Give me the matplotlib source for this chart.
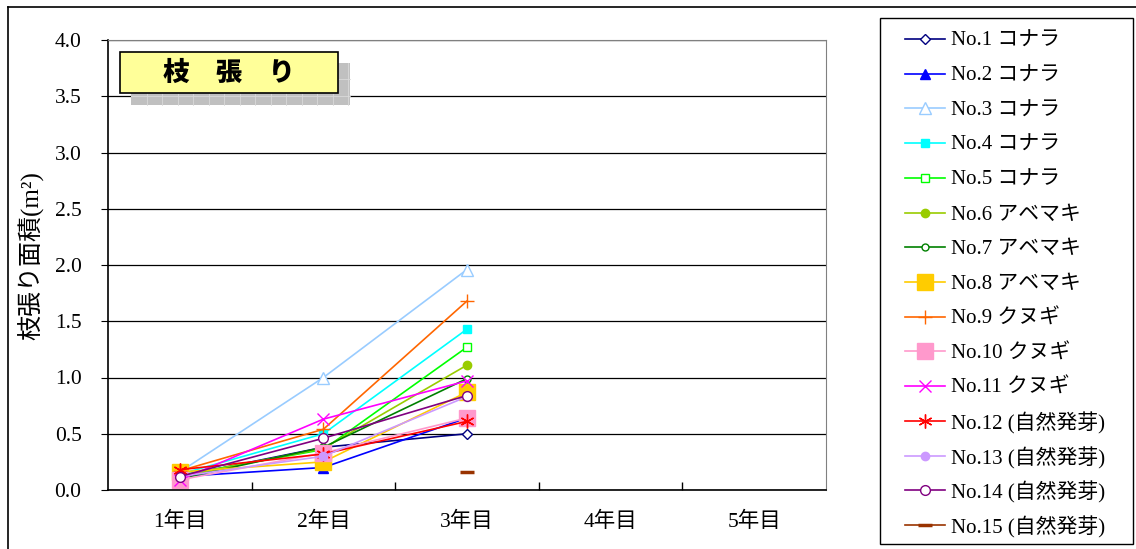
import numpy as np
import matplotlib
matplotlib.use("Agg")
import matplotlib.pyplot as plt
import matplotlib.patches as patches

plt.rcParams['font.family'] = ['Liberation Serif', 'Noto Sans CJK JP']

years = ['1年目', '2年目', '3年目', '4年目', '5年目']
labels = ['No.1 コナラ', 'No.2 コナラ', 'No.3 コナラ', 'No.4 コナラ', 'No.5 コナラ',
          'No.6 アベマキ', 'No.7 アベマキ', 'No.8 アベマキ', 'No.9 クヌギ', 'No.10 クヌギ',
          'No.11 クヌギ', 'No.12 (自然発芽)', 'No.13 (自然発芽)', 'No.14 (自然発芽)',
          'No.15 (自然発芽)']
nan = np.nan
values = [
    [0.12, 0.38, 0.50],
    [0.12, 0.20, 0.64],
    [0.16, 1.00, 1.96],
    [0.14, 0.50, 1.43],
    [0.13, 0.36, 1.27],
    [0.12, 0.37, 1.11],
    [0.10, 0.38, 0.99],
    [0.16, 0.25, 0.87],
    [0.17, 0.54, 1.68],
    [0.09, 0.33, 0.64],
    [0.09, 0.63, 0.97],
    [0.18, 0.32, 0.61],
    [0.12, 0.30, 0.83],
    [0.12, 0.46, 0.84],
    [nan, nan, 0.16],
]
colors = ['#000080', '#0000FF', '#99CCFF', '#00FFFF', '#00FF00', '#99CC00', '#008000',
          '#FFCC00', '#FF6600', '#FF99CC', '#FF00FF', '#FF0000', '#CC99FF', '#800080',
          '#993300']
# marker, size, filled
markers = [('D', 5, False), ('^', 7, True), ('^', 8, False), ('s', 6, True),
           ('s', 6, False), ('o', 6, True), ('o', 5, False), ('s', 11, True),
           ('+', 10, True), ('s', 11, True), ('x', 8, True), ((6, 2, 0), 10, True),
           ('o', 6, True), ('o', 7, False), ('_', 10, True)]


def fx(px):
    return px / 1136


def fy(py):
    return 1 - py / 549


fig = plt.figure(figsize=(11.36, 5.49), dpi=100)
ax = fig.add_axes([fx(108), fy(490), fx(826) - fx(108), fy(40) - fy(490)])

x = np.arange(1, 4)
styles = []
for vals, c, (m, ms, filled) in zip(values, colors, markers):
    st = dict(color=c, lw=1.2, marker=m, ms=ms, mfc=c if filled else 'white',
              mec=c, mew=2.5 if m == '_' else 1.0)
    styles.append(st)
    ax.plot(x, vals, **st)

ax.set_xlim(0.5, 5.5)
ax.set_ylim(0, 4.0)
yt = np.arange(0, 4.01, 0.5)
ax.set_yticks(yt)
ax.set_yticklabels(['%.1f' % v for v in yt])
ax.set_xticks(np.arange(1, 6))
ax.set_xticklabels(years)
ax.set_xticks(np.arange(1.5, 5.5, 1), minor=True)
ax.tick_params(axis='x', which='major', length=0, pad=16, labelsize=15.5)
ax.tick_params(axis='x', which='minor', length=6, direction='in', width=1)
ax.tick_params(axis='y', length=5, direction='out', pad=14, labelsize=15.5)
ax.grid(axis='y', color='black', lw=0.9)
ax.set_axisbelow(True)
for s in ['left', 'bottom']:
    ax.spines[s].set_color('black')
    ax.spines[s].set_linewidth(1.2)
for s in ['top', 'right']:
    ax.spines[s].set_color('#808080')
ax.set_ylabel('枝張り面積(m²)', fontsize=18)
ax.yaxis.set_label_coords(-(108 - 44) / 718, 0.52)

# legend box on the right, drawn by hand so rows stay evenly spaced
fig.add_artist(patches.Rectangle((fx(880), fy(544)), fx(1133) - fx(880), fy(18) - fy(544),
                                 transform=fig.transFigure, facecolor='white',
                                 edgecolor='black', lw=1.0))
row_y = np.linspace(39, 525, len(labels))
for ry, st, lab in zip(row_y, styles, labels):
    fig.add_artist(plt.Line2D([fx(905), fx(945)], [fy(ry), fy(ry)],
                              transform=fig.transFigure, color=st['color'], lw=1.2))
    fig.add_artist(plt.Line2D([fx(925)], [fy(ry)], transform=fig.transFigure,
                              ls='none', marker=st['marker'], ms=st['ms'],
                              mfc=st['mfc'], mec=st['mec'], mew=st['mew']))
    fig.text(fx(951), fy(ry), lab, fontsize=15, ha='left', va='center_baseline')

# outer border (top and left)
fig.add_artist(plt.Line2D([fx(8), 1], [fy(7), fy(7)],
                          transform=fig.transFigure, color='black', lw=1.2))
fig.add_artist(plt.Line2D([fx(8), fx(8)], [0, fy(7)],
                          transform=fig.transFigure, color='black', lw=1.2))

# title box with grid shadow
shadow = patches.Rectangle((fx(131), fy(105)), fx(350) - fx(131), fy(63) - fy(105),
                           transform=fig.transFigure, facecolor='#C0C0C0',
                           edgecolor='none', zorder=5)
fig.add_artist(shadow)
for gx in np.arange(131 + 15.5, 350, 15.5):
    fig.add_artist(plt.Line2D([fx(gx), fx(gx)], [fy(105), fy(63)],
                              transform=fig.transFigure, color='#DADADA', lw=0.6, zorder=6))
for gy in [79, 96]:
    fig.add_artist(plt.Line2D([fx(131), fx(350)], [fy(gy), fy(gy)],
                              transform=fig.transFigure, color='#DADADA', lw=0.6, zorder=6))
box = patches.Rectangle((fx(120), fy(93)), fx(338) - fx(120), fy(52) - fy(93),
                        transform=fig.transFigure, facecolor='#FFFF99',
                        edgecolor='black', lw=1.2, zorder=7)
fig.add_artist(box)
fig.text(fx(229), fy(73), '枝　張　り', family='Noto Sans CJK JP', weight='black',
         fontsize=19, ha='center', va='center', zorder=8)

fig.savefig('out.png', dpi=100)
